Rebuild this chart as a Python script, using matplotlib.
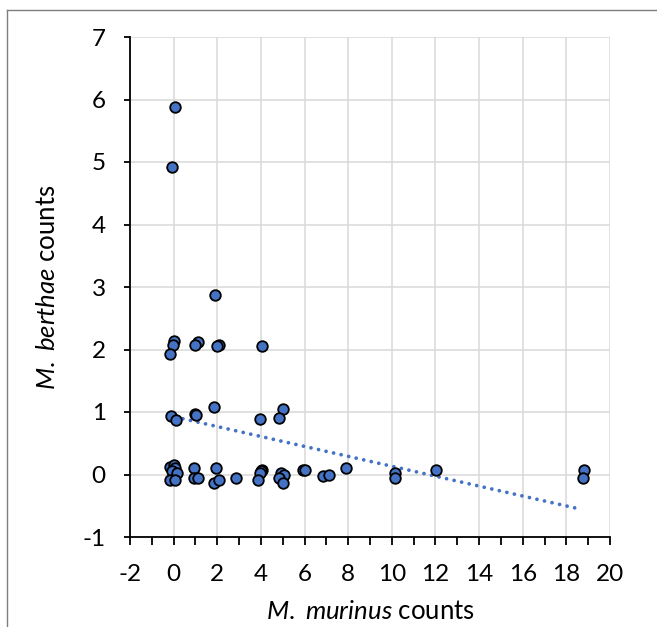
import numpy as np
import matplotlib
matplotlib.use("Agg")
import matplotlib.pyplot as plt
from matplotlib.lines import Line2D

# Data (jittered counts)
murinus = [0.05, -0.08, 0.03, -0.03, -0.15, -0.12, 0.12, -0.15, 0.00, 0.08, -0.08, 0.15, -0.18, 0.08,
           1.10, 1.00, 0.96, 1.04, 0.93, 0.93, 1.10,
           1.90, 2.06, 2.00, 1.85, 1.94, 1.83, 2.09,
           2.86,
           4.03, 3.98, 4.05, 4.00, 3.95, 3.85,
           5.02, 4.84, 4.90, 5.08, 4.84, 5.00,
           5.92, 6.00, 6.85, 7.12, 7.92,
           10.15, 10.15, 12.03, 18.80, 18.77]
berthae = [5.88, 4.92, 2.13, 2.08, 1.93, 0.93, 0.88, 0.12, 0.15, 0.11, 0.05, 0.02, -0.09, -0.08,
           2.12, 2.08, 0.97, 0.95, 0.11, -0.06, -0.05,
           2.87, 2.08, 2.05, 1.08, 0.10, -0.13, -0.09,
           -0.06,
           2.05, 0.89, 0.08, 0.06, 0.02, -0.09,
           1.05, 0.90, 0.02, 0.00, -0.06, -0.13,
           0.08, 0.07, -0.03, -0.01, 0.11,
           0.03, -0.05, 0.07, 0.07, -0.05]

# Trendline as shown in the reference
trend_x = [0.08, 18.6]
trend_slope = -0.0794
trend_intercept = 0.926

x_ticks = [-2, 0, 2, 4, 6, 8, 10, 12, 14, 16, 18, 20]
y_ticks = [-1, 0, 1, 2, 3, 4, 5, 6, 7]

plt.rcParams['font.family'] = ['Lato', 'DejaVu Sans']
plt.rcParams['mathtext.fontset'] = 'custom'
plt.rcParams['mathtext.rm'] = 'Lato'
plt.rcParams['mathtext.it'] = 'Lato:italic'

fig = plt.figure(figsize=(6.57, 6.27), dpi=100)
ax = fig.add_axes([130/657, 1-537/627, 480/657, 500/627])

blue = '#4472C4'
ax.scatter(murinus, berthae, s=58, facecolor=blue, edgecolor='black', linewidth=1.3, zorder=3)

tx = np.array(trend_x)
ax.plot(tx, trend_slope*tx + trend_intercept, color=blue, lw=2.7, linestyle=(0, (0.01, 2.05)),
        dash_capstyle='round', zorder=2)

ax.set_xlim(-2, 20)
ax.set_ylim(-1, 7)
ax.set_xticks(x_ticks)
ax.set_xticks(np.arange(-1, 20, 2), minor=True)
ax.set_yticks(y_ticks)
ax.set_xticklabels([str(v) for v in x_ticks])
ax.set_yticklabels([str(v) for v in y_ticks])

ax.grid(True, color='#d9d9d9', lw=1.1, zorder=0)
ax.set_axisbelow(True)
for s in ['top', 'right']:
    ax.spines[s].set_visible(False)
for s in ['left', 'bottom']:
    ax.spines[s].set_color('black')
    ax.spines[s].set_linewidth(1.3)

ax.tick_params(axis='x', which='both', direction='out', length=5.5, width=1.3, color='black',
               labelsize=17.5, pad=14)
ax.tick_params(axis='y', which='major', direction='out', length=4.5, width=1.3, color='black',
               labelsize=17.5, pad=13)

ax.set_xlabel(r'$\mathit{M.\ murinus}$ counts', fontsize=18.5, labelpad=10)
ax.set_ylabel(r'$\mathit{M.\ berthae}$ counts', fontsize=18.5, labelpad=16)

# outer frame (left and top edges visible)
fig.add_artist(Line2D([6.5/657, 6.5/657], [0, 1-9.5/627], transform=fig.transFigure,
                      color='#7f7f7f', lw=1.0))
fig.add_artist(Line2D([6.5/657, 1], [1-9.5/627, 1-9.5/627], transform=fig.transFigure,
                      color='#7f7f7f', lw=1.0))

fig.savefig('out.png', dpi=100)
